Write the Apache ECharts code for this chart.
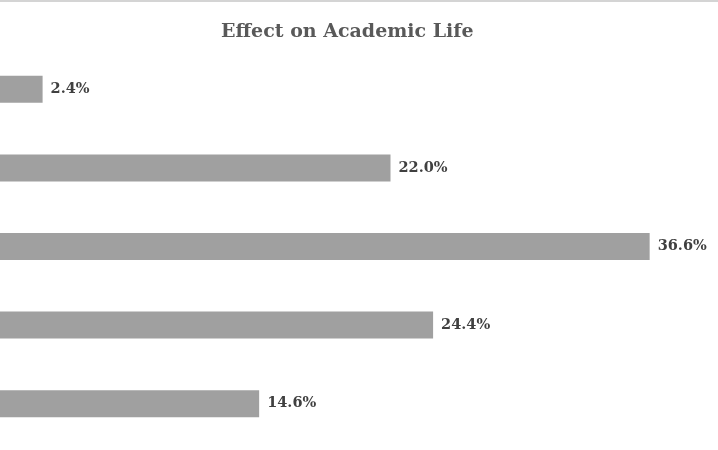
<!DOCTYPE html>
<html>
<head>
<meta charset="utf-8">
<script src="https://cdn.jsdelivr.net/npm/echarts@6/dist/echarts.min.js"></script>
<style>html,body{margin:0;padding:0;background:#fff;}#c{width:718px;height:450px;}</style>
</head>
<body>
<div id="c"></div>
<script>
var categories = ['Response 1', 'Response 2', 'Response 3', 'Response 4', 'Response 5'];
var values = [2.4, 22.0, 36.6, 24.4, 14.6];
var titleText = 'Effect on Academic Life';

var chart = echarts.init(document.getElementById('c'), null, {renderer: 'canvas'});
chart.setOption({
  backgroundColor: '#ffffff',
  animation: false,
  title: {
    text: titleText,
    left: 216,
    top: 18,
    textStyle: {fontFamily: 'DejaVu Serif', fontWeight: 'bold', fontSize: 19, color: '#595959'}
  },
  graphic: [{
    type: 'line',
    shape: {x1: 0, y1: 1, x2: 718, y2: 1},
    style: {stroke: '#d4d4d4', lineWidth: 2}
  }],
  grid: {left: -1, right: 8, top: 50, bottom: 7, containLabel: false},
  xAxis: {
    type: 'value', min: 0, max: 40,
    show: false
  },
  yAxis: {
    type: 'category', data: categories, inverse: true,
    axisLine: {show: false}, axisTick: {show: false}, axisLabel: {show: false}, splitLine: {show: false}
  },
  series: [{
    type: 'bar',
    data: values,
    barWidth: 27,
    itemStyle: {color: '#a0a0a0'},
    label: {
      show: true, position: 'right', distance: 8,
      formatter: function (p) { return p.value.toFixed(1) + '%'; },
      fontFamily: 'DejaVu Serif', fontWeight: 'bold', fontSize: 14.5, color: '#404040'
    }
  }]
});
</script>
</body>
</html>
